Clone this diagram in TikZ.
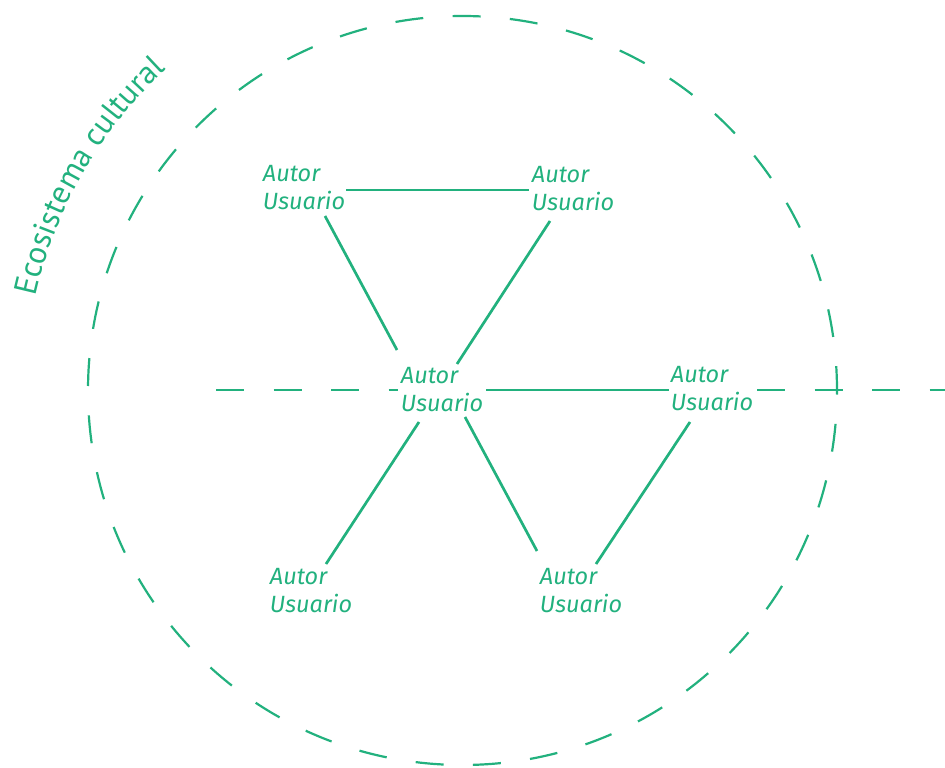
\documentclass[tikz,border=0pt]{standalone}
\usepackage{fontspec}
\setmainfont{Fira Sans}
\newfontfamily\labelfamily{PT Sans}
\usetikzlibrary{decorations.text}
\definecolor{eco}{RGB}{34,177,126}
\newcommand\ecofont{\labelfamily\fontsize{32}{34}\selectfont}
\tikzset{
  actor/.style={text=eco, inner sep=0pt, align=left,
    font=\fontsize{23.5}{28}\selectfont\itshape},
  link/.style={draw=eco, line width=2.7pt},
  dashlink/.style={draw=eco, line width=2.2pt, dash pattern=on 28pt off 29.5pt},
}
\begin{document}
\begin{tikzpicture}[x=1pt,y=-1pt]
\useasboundingbox (0,0) rectangle (945,768);
% circle
\draw[eco, line width=2.2pt, dash pattern=on 28pt off 29.39pt, dash phase=24pt]
  (462.5,390.5) circle[radius=374.5];
% label along arc
\path[decorate, decoration={text along path, text align=left,
  text={|\ecofont\color{eco}|Ecosistema cultural}}]
  (462.5,390.5) ++(-167.6:437) arc[start angle=-167.6, end angle=-115, radius=437];
% nodes
\node[actor] (tl)  at (304,188) {Autor\\Usuario};
\node[actor] (tr)  at (573,189) {Autor\\Usuario};
\node[actor] (ctr) at (442,390) {Autor\\Usuario};
\node[actor] (r)   at (712,389) {Autor\\Usuario};
\node[actor] (bl)  at (311,591) {Autor\\Usuario};
\node[actor] (br)  at (581,591) {Autor\\Usuario};
\coordinate (dl) at (216,390);
\coordinate (dr) at (945,390);
% dashed axis
\draw[dashlink] (dl) -- ([shift={(-44,0)}]ctr.center);
\draw[dashlink] ([shift={(45,1)}]r.center) -- (dr);
% solid links
\draw[link] ([shift={(42,2)}]tl.center) -- ([shift={(-44,1)}]tr.center);
\draw[link] ([shift={(21,28)}]tl.center) -- ([shift={(-45,-40)}]ctr.center);
\draw[link] ([shift={(-23,32)}]tr.center) -- ([shift={(15,-26)}]ctr.center);
\draw[link] ([shift={(44,0)}]ctr.center) -- ([shift={(-43,1)}]r.center);
\draw[link] ([shift={(-23,32)}]ctr.center) -- ([shift={(15,-27)}]bl.center);
\draw[link] ([shift={(23,27)}]ctr.center) -- ([shift={(-44,-40)}]br.center);
\draw[link] ([shift={(-22,33)}]r.center) -- ([shift={(15,-27)}]br.center);
\end{tikzpicture}
\end{document}
